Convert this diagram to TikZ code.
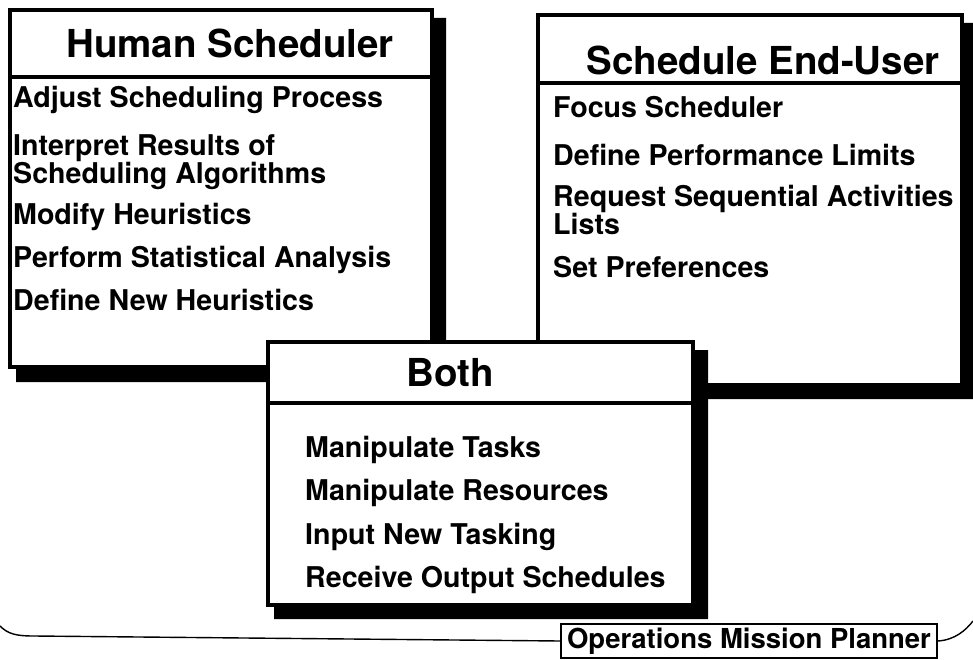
\documentclass[tikz,border=0pt]{standalone}
\usepackage{fontspec}
\setmainfont{TeX Gyre Heros}
\usepackage{tikz}
\usetikzlibrary{positioning, calc}
\tikzset{
  panel/.style={rectangle, draw=black, fill=white, line width=3.5pt,
    inner sep=0pt, outer sep=0pt},
  shade/.style={fill=black},
  rule/.style={line width=3.5pt},
  title/.style={font=\fontsize{38.5}{40}\selectfont\bfseries, inner sep=0pt},
  item/.style={font=\fontsize{28.6}{26}\selectfont\bfseries, anchor=west,
    align=left, inner sep=0pt},
  tag/.style={rectangle, draw=black, line width=1.6pt, fill=white,
    font=\fontsize{27.5}{30}\selectfont\bfseries, inner xsep=6pt, inner ysep=4pt},
  brace/.style={line width=1.4pt}
}

\begin{document}
\begin{tikzpicture}[x=1pt, y=-1pt]
  \useasboundingbox[fill=white] (0,0) rectangle (973,660);

  % Human Scheduler
  \fill[shade] (16,367) -- (16,382) -- (446,382) -- (446,18) -- (432,18) -- (432,367) -- cycle;
  \node[panel, minimum width=422pt, minimum height=357pt] (human) at (221,188.5) {};
  \draw[rule] (10,77) -- (432,77);
  \node[title] (humantitle) at (230,43) {Human Scheduler};
  \node[item] (adjust) at (13,100) {Adjust Scheduling Process};
  \node[item] (interpret) at (13,162) {Interpret Results of\\Scheduling Algorithms};
  \node[item] (modify) at (13,217) {Modify Heuristics};
  \node[item] (perform) at (13,260) {Perform Statistical Analysis};
  \node[item] (define) at (13,300) {Define New Heuristics};

  % Schedule End-User
  \fill[shade] (544,385) -- (544,399) -- (976,399) -- (976,23) -- (962,23) -- (962,385) -- cycle;
  \node[panel, minimum width=424pt, minimum height=370pt] (user) at (750,200) {};
  \draw[rule] (538,83) -- (962,83);
  \node[title] (usertitle) at (763,60) {Schedule End-User};
  \node[item] (focus) at (553,107) {Focus Scheduler};
  \node[item] (limits) at (553,155) {Define Performance Limits};
  \node[item] (request) at (553,210) {Request Sequential Activities\\Lists};
  \node[item] (prefs) at (553,267) {Set Preferences};

  % Both
  \fill[shade] (274,605) -- (274,619) -- (708,619) -- (708,350) -- (693,350) -- (693,605) -- cycle;
  \node[panel, minimum width=425pt, minimum height=263pt] (both) at (480.5,473.5) {};
  \draw[rule] (268,403) -- (693,403);
  \node[title] (bothtitle) at (450,373) {Both};
  \node[item] (tasks) at (305,450) {Manipulate Tasks};
  \node[item] (resources) at (305,493) {Manipulate Resources};
  \node[item] (tasking) at (305,537) {Input New Tasking};
  \node[item] (output) at (305,580) {Receive Output Schedules};

  % Operations Mission Planner
  \node[tag] (omp) at (749,641) {Operations Mission Planner};
  \draw[brace] (0,626) .. controls (8,634) and (16,636) .. (34,636) -- (omp.west);
  \draw[brace] (omp.east) .. controls (955,640) and (966,630) .. (973,621);
\end{tikzpicture}
\end{document}
